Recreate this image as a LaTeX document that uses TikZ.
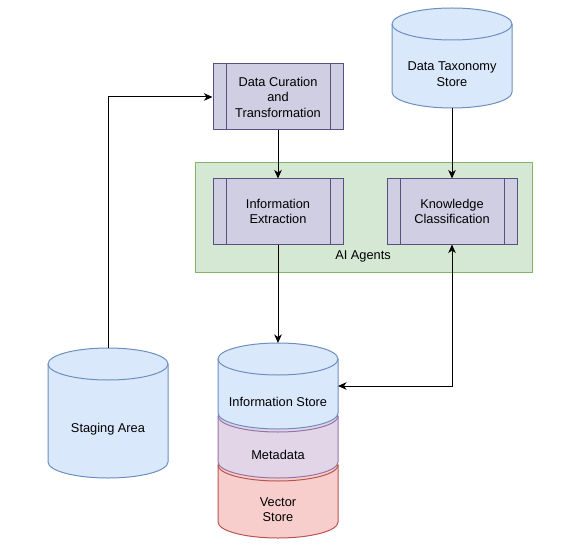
\documentclass[tikz,border=0pt]{standalone}
\usepackage{fontspec}
\setmainfont{Liberation Sans}
\usetikzlibrary{arrows.meta,calc}
\definecolor{bluefill}{HTML}{DAE8FC}
\definecolor{bluedraw}{HTML}{6C8EBF}
\definecolor{purpfill}{HTML}{E1D5E7}
\definecolor{purpdraw}{HTML}{9673A6}
\definecolor{redfill}{HTML}{F8CECC}
\definecolor{reddraw}{HTML}{B85450}
\definecolor{greenfill}{HTML}{D5E8D4}
\definecolor{greendraw}{HTML}{82B366}
\definecolor{procfill}{HTML}{D0CEE2}
\definecolor{procdraw}{HTML}{56517E}
\newcommand\dbcyl[7]{%
  \path[fill=#5,draw=#6,line width=1pt] (#2-60,-#3-16) -- (#2-60,-#4+16)
    arc[start angle=180,end angle=360,x radius=60pt,y radius=16pt]
    -- (#2+60,-#3-16)
    arc[start angle=0,end angle=180,x radius=60pt,y radius=16pt] -- cycle;
  \draw[#6,line width=1pt] (#2-60,-#3-16)
    arc[start angle=180,end angle=360,x radius=60pt,y radius=16pt];
  \node[inner sep=0pt,minimum width=120pt,minimum height={#4-#3},outer sep=0pt] (#1) at (#2,{-(#3+#4)/2}) {};
  \node[txt] at (#2,{-(#3+32+#4)/2}) {#7};
}
\begin{document}
\begin{tikzpicture}[x=1pt,y=1pt,
  txt/.style={font=\fontsize{12.8}{15.5}\selectfont,align=center,text=black},
  proc/.style={draw=procdraw,fill=procfill,line width=1pt,minimum width=130pt,inner sep=0pt,
    txt,
    path picture={\draw[procdraw,line width=1pt]
      ([xshift=13pt]path picture bounding box.north west) -- ([xshift=13pt]path picture bounding box.south west)
      ([xshift=-13pt]path picture bounding box.north east) -- ([xshift=-13pt]path picture bounding box.south east);}},
  conn/.style={line width=1pt,draw=black,-{Stealth[length=8.5pt,width=7.5pt,inset=2.5pt]}},
  biconn/.style={line width=1pt,draw=black,{Stealth[length=8.5pt,width=7.5pt,inset=2.5pt]}-{Stealth[length=8.5pt,width=7.5pt,inset=2.5pt]}}
]
\useasboundingbox (0,0) rectangle (575,-548);
% container
\node[draw=greendraw,fill=greenfill,line width=1pt,minimum width=337pt,minimum height=109pt,inner sep=0pt] (agents) at (363.5,-217.5) {};
\node[txt] (agentslbl) at (363,-256) {AI Agents};
% process boxes
\node[proc,minimum height=66pt] (cur) at (278,-97) {Data Curation\\and\\Transformation};
\node[proc,minimum height=65pt] (ext) at (278,-211.5) {Information\\Extraction};
\node[proc,minimum height=65pt] (kc) at (452,-211.5) {Knowledge\\Classification};
% cylinders
\dbcyl{dts}{452}{8}{108}{bluefill}{bluedraw}{Data Taxonomy\\Store}
\dbcyl{stage}{108}{348}{478}{bluefill}{bluedraw}{Staging Area}
\dbcyl{vec}{278}{449}{538}{redfill}{reddraw}{Vector\\Store}
\dbcyl{meta}{278}{400}{478}{purpfill}{purpdraw}{Metadata}
\dbcyl{info}{278}{343}{429}{bluefill}{bluedraw}{Information Store}
% connectors
\draw[conn] (stage.north) |- (cur.west);
\draw[conn] (cur.south) -- (ext.north);
\draw[conn] (dts.south) -- (kc.north);
\draw[conn] (ext.south) -- (info.north);
\draw[biconn] (info.east) -| (kc.south);
\end{tikzpicture}
\end{document}
